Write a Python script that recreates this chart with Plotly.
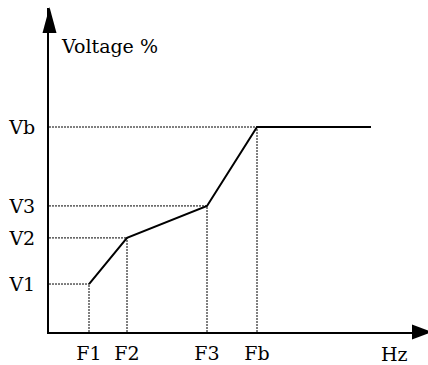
import plotly.graph_objects as go

# Schematic V/F curve data (arbitrary units)
freq_labels = ["F1", "F2", "F3", "Fb"]
freq_points = [10, 19.5, 39.5, 52]
volt_labels = ["V1", "V2", "V3", "Vb"]
volt_points = [23.4, 45.9, 61.5, 100]
curve_x = [10, 19.5, 39.5, 52, 80.5]
curve_y = [23.4, 45.9, 61.5, 100, 100]
x_max = 94.5
y_max = 158.05

FONT = "DejaVu Serif"
FS = 19

fig = go.Figure()

# dotted guide lines
for fx, vy in zip(freq_points, volt_points):
    fig.add_trace(go.Scatter(x=[0, fx], y=[vy, vy], mode="lines",
                             line=dict(color="black", width=1, dash="2px,1px"),
                             hoverinfo="skip", showlegend=False))
    fig.add_trace(go.Scatter(x=[fx, fx], y=[0, vy], mode="lines",
                             line=dict(color="black", width=1, dash="2px,1px"),
                             hoverinfo="skip", showlegend=False))

# main curve
fig.add_trace(go.Scatter(x=curve_x, y=curve_y, mode="lines",
                         line=dict(color="black", width=2),
                         showlegend=False))

W, H = 428, 365
ml, mr, mt, mb = 49, 1, 8, 33
pw, ph = W - ml - mr, H - mt - mb

def px(xp):
    return (xp - ml) / pw

def py(yp):
    return 1 - (yp - mt) / ph

shapes = [
    dict(type="path", xref="paper", yref="paper",
         path=f"M {px(42.5)} {py(33)} L {px(49.5)} {py(7)} L {px(56.5)} {py(33)} Z",
         fillcolor="black", line=dict(width=0)),
    dict(type="path", xref="paper", yref="paper",
         path=f"M {px(412)} {py(324.5)} L {px(432)} {py(332)} L {px(412)} {py(339.5)} Z",
         fillcolor="black", line=dict(width=0)),
]

annotations = [
    dict(text="Voltage %", xref="paper", yref="paper", x=px(59), y=py(46),
         xanchor="left", yanchor="middle", showarrow=False,
         font=dict(family=FONT, size=FS, color="black")),
    dict(text="Hz", xref="paper", yref="paper", x=px(394), y=py(354),
         xanchor="center", yanchor="middle", showarrow=False,
         font=dict(family=FONT, size=FS, color="black")),
]

fig.update_layout(
    width=W, height=H,
    margin=dict(l=ml, r=mr, t=mt, b=mb, pad=0, autoexpand=False),
    paper_bgcolor="white", plot_bgcolor="white",
    font=dict(family=FONT, color="black"),
    shapes=shapes, annotations=annotations,
    xaxis=dict(range=[0, x_max], showgrid=False, zeroline=False,
               showline=True, linecolor="black", linewidth=2,
               tickvals=freq_points, ticktext=freq_labels, ticks="",
               automargin=False, ticklabelstandoff=3, fixedrange=True,
               tickfont=dict(family=FONT, size=FS, color="black")),
    yaxis=dict(range=[0, y_max], showgrid=False, zeroline=False,
               showline=True, linecolor="black", linewidth=2,
               tickvals=volt_points, ticktext=volt_labels, ticks="",
               automargin=False, ticklabelstandoff=8, fixedrange=True,
               tickfont=dict(family=FONT, size=FS, color="black")),
)

fig.write_html("out.html", config={"displayModeBar": False},
               post_script="document.body.style.margin='0';")
